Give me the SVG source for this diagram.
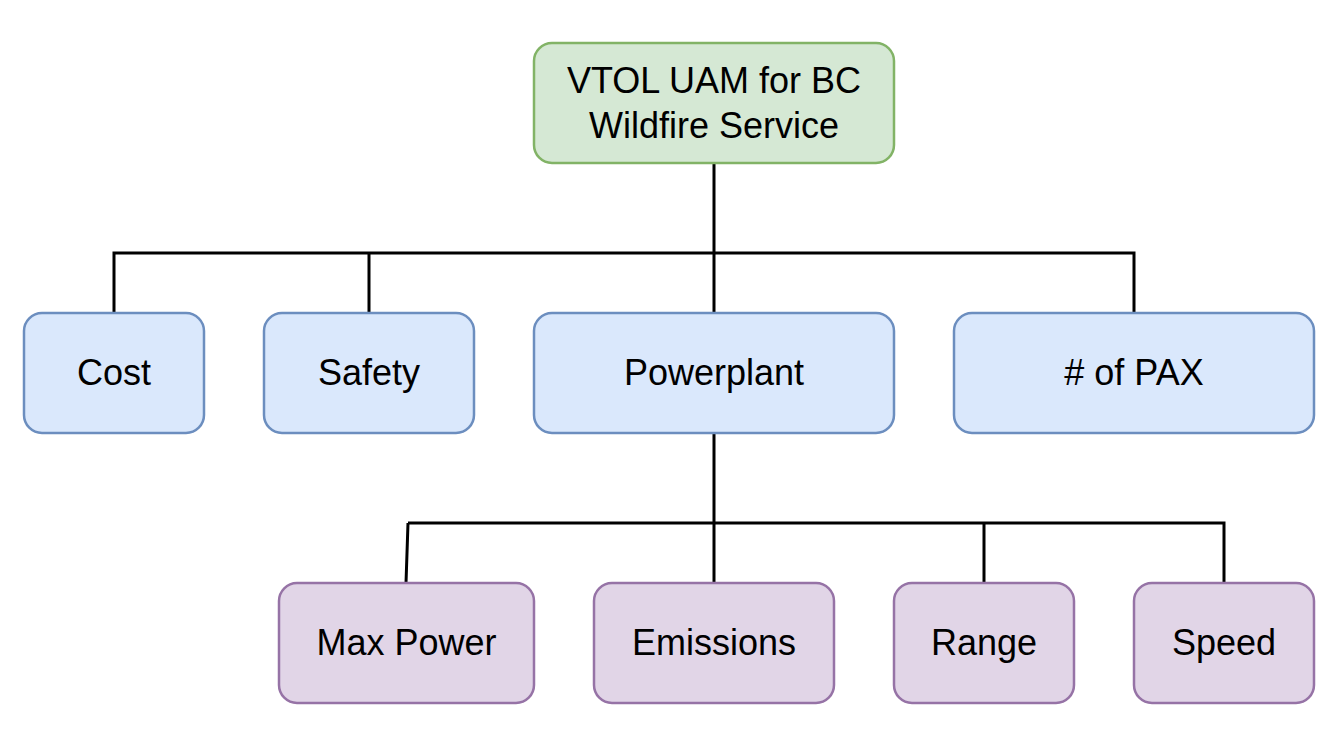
<svg xmlns="http://www.w3.org/2000/svg" width="1342" height="737" viewBox="0 0 1342 737">
<style>
.n rect{stroke-width:2.5}
.g rect{fill:#d5e8d4;stroke:#82b366}
.b rect{fill:#dae8fc;stroke:#6c8ebf}
.p rect{fill:#e1d5e7;stroke:#9673a6}
text{font-family:"Liberation Sans",Arial,sans-serif;font-size:36px;fill:#000;text-anchor:middle}
#edges path{fill:none;stroke:#000;stroke-width:3}
</style>
<rect width="1342" height="737" fill="#fff"/>
<g id="edges">
<path d="M714 163V253M114 313V253H1134V313M369 253V313M714 253V313"/>
<path d="M714 433V523M408 523H1224V583M408 523L406 583M714 523V583M984 523V583"/>
</g>
<g id="root" class="n g"><rect x="534" y="43" width="360" height="120" rx="18"/><text x="714" y="93">VTOL UAM for BC</text><text x="714" y="138">Wildfire Service</text></g>
<g id="cost" class="n b"><rect x="24" y="313" width="180" height="120" rx="18"/><text x="114" y="385">Cost</text></g>
<g id="safety" class="n b"><rect x="264" y="313" width="210" height="120" rx="18"/><text x="369" y="385">Safety</text></g>
<g id="powerplant" class="n b"><rect x="534" y="313" width="360" height="120" rx="18"/><text x="714" y="385">Powerplant</text></g>
<g id="pax" class="n b"><rect x="954" y="313" width="360" height="120" rx="18"/><text x="1134" y="385"># of PAX</text></g>
<g id="maxpower" class="n p"><rect x="279" y="583" width="255" height="120" rx="18"/><text x="406.5" y="655">Max Power</text></g>
<g id="emissions" class="n p"><rect x="594" y="583" width="240" height="120" rx="18"/><text x="714" y="655">Emissions</text></g>
<g id="range" class="n p"><rect x="894" y="583" width="180" height="120" rx="18"/><text x="984" y="655">Range</text></g>
<g id="speed" class="n p"><rect x="1134" y="583" width="180" height="120" rx="18"/><text x="1224" y="655">Speed</text></g>
</svg>
